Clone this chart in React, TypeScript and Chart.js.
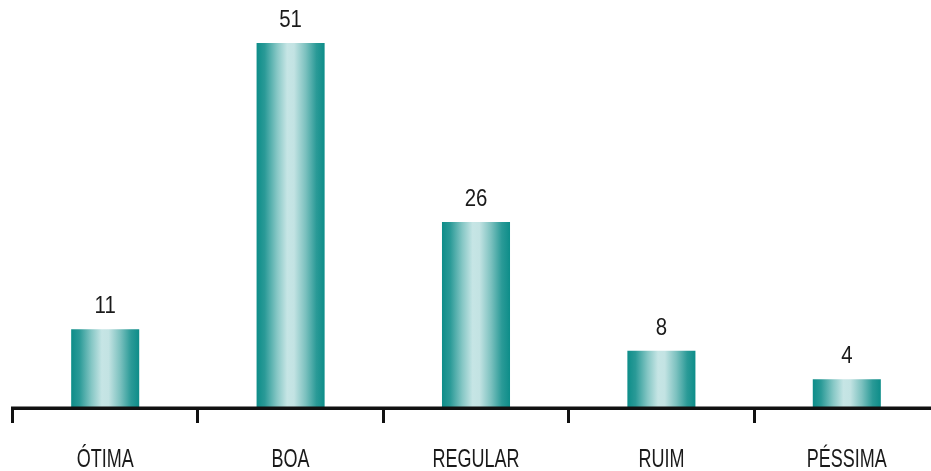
import React, { useEffect, useRef } from "react";
import { Chart, registerables } from "chart.js";

Chart.register(...registerables);

const categories = ["ÓTIMA", "BOA", "REGULAR", "RUIM", "PÉSSIMA"];
const values = [11, 51, 26, 8, 4];
const yMax = 57;

const FONT = "'Liberation Sans', Arial, sans-serif";
const INK = "#111111";
const PLOT_LEFT = 12.5;
const SLOT_PX = 185.4; // width of one category slot
const CANVAS_W = 931;
const CANVAS_H = 471;
// index axis: slots centred on 0..4; the last slot runs off the right edge
const xMin = -0.5;
const xMax = xMin + (CANVAS_W - PLOT_LEFT) / SLOT_PX;
const slotEdges = [-0.5, 0.5, 1.5, 2.5, 3.5];

// Horizontal teal gradient across each bar, light in the middle.
function barGradient(ctx: CanvasRenderingContext2D, left: number, right: number) {
  const g = ctx.createLinearGradient(left, 0, right, 0);
  g.addColorStop(0, "#0d8d89");
  g.addColorStop(0.12, "#2a9a97");
  g.addColorStop(0.3, "#86c7c5");
  g.addColorStop(0.45, "#c6e5e5");
  g.addColorStop(0.55, "#c3e3e3");
  g.addColorStop(0.72, "#7cc1bf");
  g.addColorStop(0.88, "#2a9a97");
  g.addColorStop(1, "#0d8d89");
  return g;
}

const BAR_FRACTION = 0.367;

// Narrow lettering: draw text squeezed horizontally around its centre.
function narrowText(
  ctx: CanvasRenderingContext2D,
  text: string,
  x: number,
  y: number,
  squeeze: number
) {
  ctx.save();
  ctx.translate(x, y);
  ctx.scale(squeeze, 1);
  ctx.fillText(text, 0, 0);
  ctx.restore();
}

const textLayer = {
  id: "textLayer",
  afterDraw(chart: any) {
    const ctx = chart.ctx;
    const meta = chart.getDatasetMeta(0);
    const xs = chart.scales.x;
    ctx.save();
    // baseline carried through to the right edge of the canvas
    ctx.fillStyle = INK;
    ctx.fillRect(xs.left - 1.5, chart.chartArea.bottom - 1.5, chart.width, 3);

    ctx.fillStyle = "#1a1a1a";
    ctx.textAlign = "center";
    ctx.textBaseline = "alphabetic";
    ctx.font = `24px ${FONT}`;
    meta.data.forEach((el: any, i: number) => {
      narrowText(ctx, String(values[i]), el.x, el.y - 16, 0.85);
    });
    ctx.font = `25px ${FONT}`;
    categories.forEach((c, i) => {
      narrowText(ctx, c, xs.getPixelForValue(i), chart.chartArea.bottom + 59, 0.72);
    });
    ctx.restore();
  },
};

export default function App() {
  const ref = useRef<HTMLCanvasElement>(null);

  useEffect(() => {
    document.body.style.margin = "0";
    if (!ref.current) return;
    const chart = new Chart(ref.current, {
      type: "bar",
      data: {
        datasets: [
          {
            data: values.map((v, i) => ({ x: i, y: v })),
            borderWidth: 0,
            backgroundColor: (c: any) => {
              const ch = c.chart;
              const xs = ch.scales?.x;
              if (!ch.chartArea || !xs) return "#1a9490";
              const cx = xs.getPixelForValue(c.dataIndex);
              const w = (xs.getPixelForValue(1) - xs.getPixelForValue(0)) * BAR_FRACTION;
              return barGradient(ch.ctx, cx - w / 2, cx + w / 2);
            },
            barPercentage: 1,
            categoryPercentage: BAR_FRACTION,
          },
        ],
      },
      options: {
        responsive: false,
        animation: false,
        devicePixelRatio: 1,
        layout: { padding: { left: PLOT_LEFT, right: 0, top: 0, bottom: 48 } },
        plugins: {
          legend: { display: false },
          tooltip: { enabled: false },
        },
        scales: {
          x: {
            type: "linear",
            min: xMin,
            max: xMax,
            offset: false,
            grid: {
              display: true,
              offset: false,
              drawOnChartArea: false,
              drawTicks: true,
              tickLength: 15,
              tickWidth: 3,
              tickColor: INK,
            },
            border: { display: true, width: 3, color: INK },
            ticks: { display: false, autoSkip: false },
            afterBuildTicks: (scale: any) => {
              scale.ticks = slotEdges.map((v) => ({ value: v }));
            },
          },
          y: {
            display: false,
            min: 0,
            max: yMax,
          },
        },
      },
      plugins: [textLayer],
    });
    return () => chart.destroy();
  }, []);

  return (
    <div style={{ width: CANVAS_W, height: CANVAS_H, overflow: "hidden", background: "#ffffff" }}>
      <canvas ref={ref} width={CANVAS_W} height={CANVAS_H} style={{ display: "block" }} />
    </div>
  );
}
